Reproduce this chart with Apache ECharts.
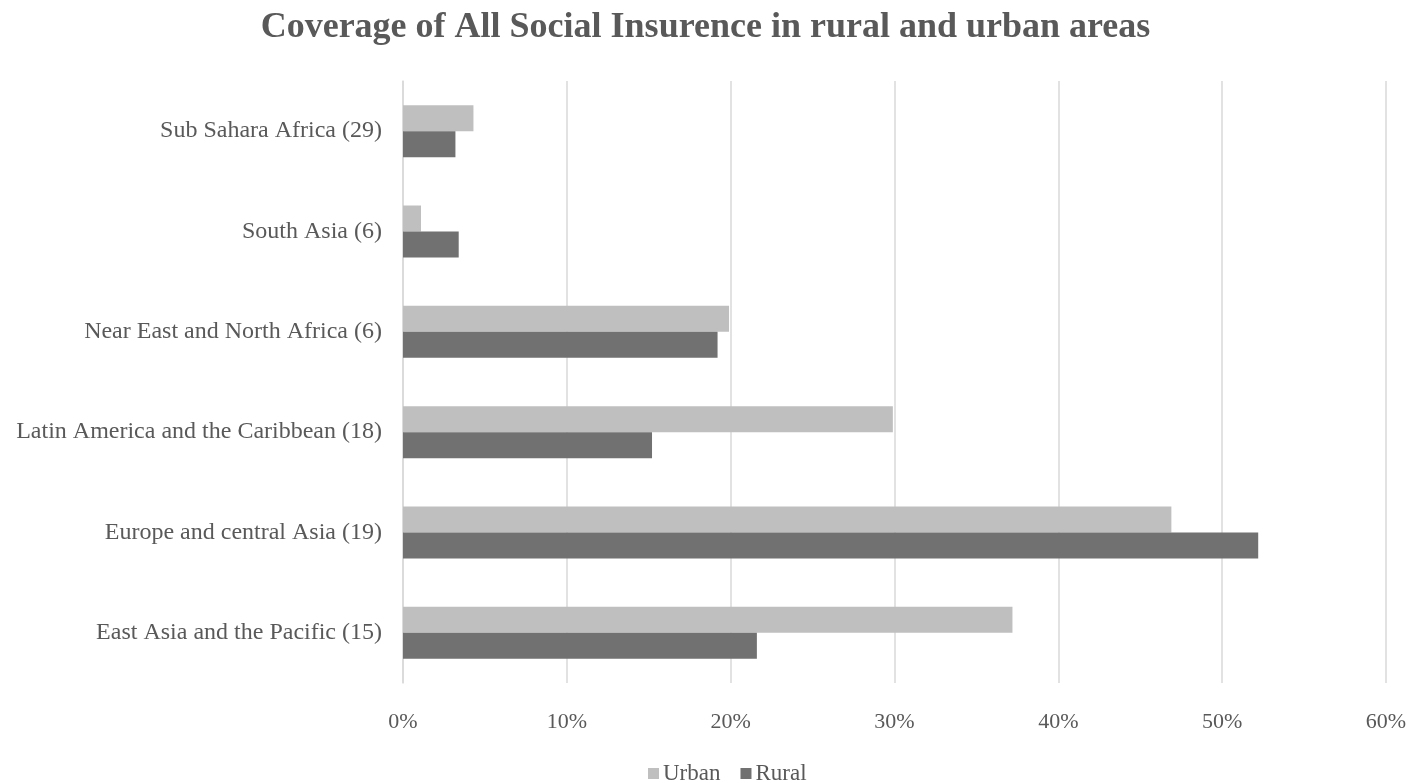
<!DOCTYPE html>
<html>
<head>
<meta charset="utf-8">
<script src="https://cdn.jsdelivr.net/npm/echarts@6/dist/echarts.min.js"></script>
<style>
html,body{margin:0;padding:0;background:#fff;}
#chart{width:1411px;height:783px;}
</style>
</head>
<body>
<div id="chart"></div>
<script>
const categories = [
  'Sub Sahara Africa (29)',
  'South Asia (6)',
  'Near East and North Africa (6)',
  'Latin America and the Caribbean (18)',
  'Europe and central Asia (19)',
  'East Asia and the Pacific (15)'
];
const urban = [4.3, 1.1, 19.9, 29.9, 46.9, 37.2];
const rural = [3.2, 3.4, 19.2, 15.2, 52.2, 21.6];
const seriesNames = ['Urban', 'Rural'];
const titleText = 'Coverage of All Social Insurence in rural and urban areas';

const FONT = '"Liberation Serif", "Times New Roman", serif';
const chart = echarts.init(document.getElementById('chart'), null, {renderer: 'canvas'});
chart.setOption({
  animation: false,
  backgroundColor: '#ffffff',
  title: {
    text: titleText,
    left: 'center',
    top: 5,
    textStyle: {fontFamily: FONT, fontSize: 36, fontWeight: 'bold', color: '#595959'}
  },
  legend: {
    data: seriesNames,
    left: 643,
    top: 757,
    itemWidth: 11,
    itemHeight: 11,
    itemGap: 20,
    icon: 'rect',
    textStyle: {fontFamily: FONT, fontSize: 23, color: '#595959', padding: [0, 0, 0, -1]}
  },
  grid: {left: 403, right: 25, top: 81, bottom: 100, containLabel: false},
  xAxis: {
    type: 'value',
    min: 0,
    max: 60,
    interval: 10,
    axisLine: {show: false},
    axisTick: {show: false},
    splitLine: {lineStyle: {color: '#d9d9d9', width: 1.5}},
    axisLabel: {
      formatter: '{value}%',
      fontFamily: FONT, fontSize: 22, color: '#595959', margin: 28
    }
  },
  yAxis: {
    type: 'category',
    data: categories,
    inverse: true,
    axisLine: {show: true, lineStyle: {color: '#d9d9d9', width: 1.5}},
    axisTick: {show: false},
    axisLabel: {fontFamily: FONT, fontSize: 24, color: '#595959', margin: 21}
  },
  series: [
    {
      name: seriesNames[0], type: 'bar', data: urban,
      barWidth: 26, barGap: '0%',
      itemStyle: {color: '#bfbfbf'}
    },
    {
      name: seriesNames[1], type: 'bar', data: rural,
      barWidth: 26, barGap: '0%',
      itemStyle: {color: '#717171'}
    }
  ]
});
</script>
</body>
</html>
